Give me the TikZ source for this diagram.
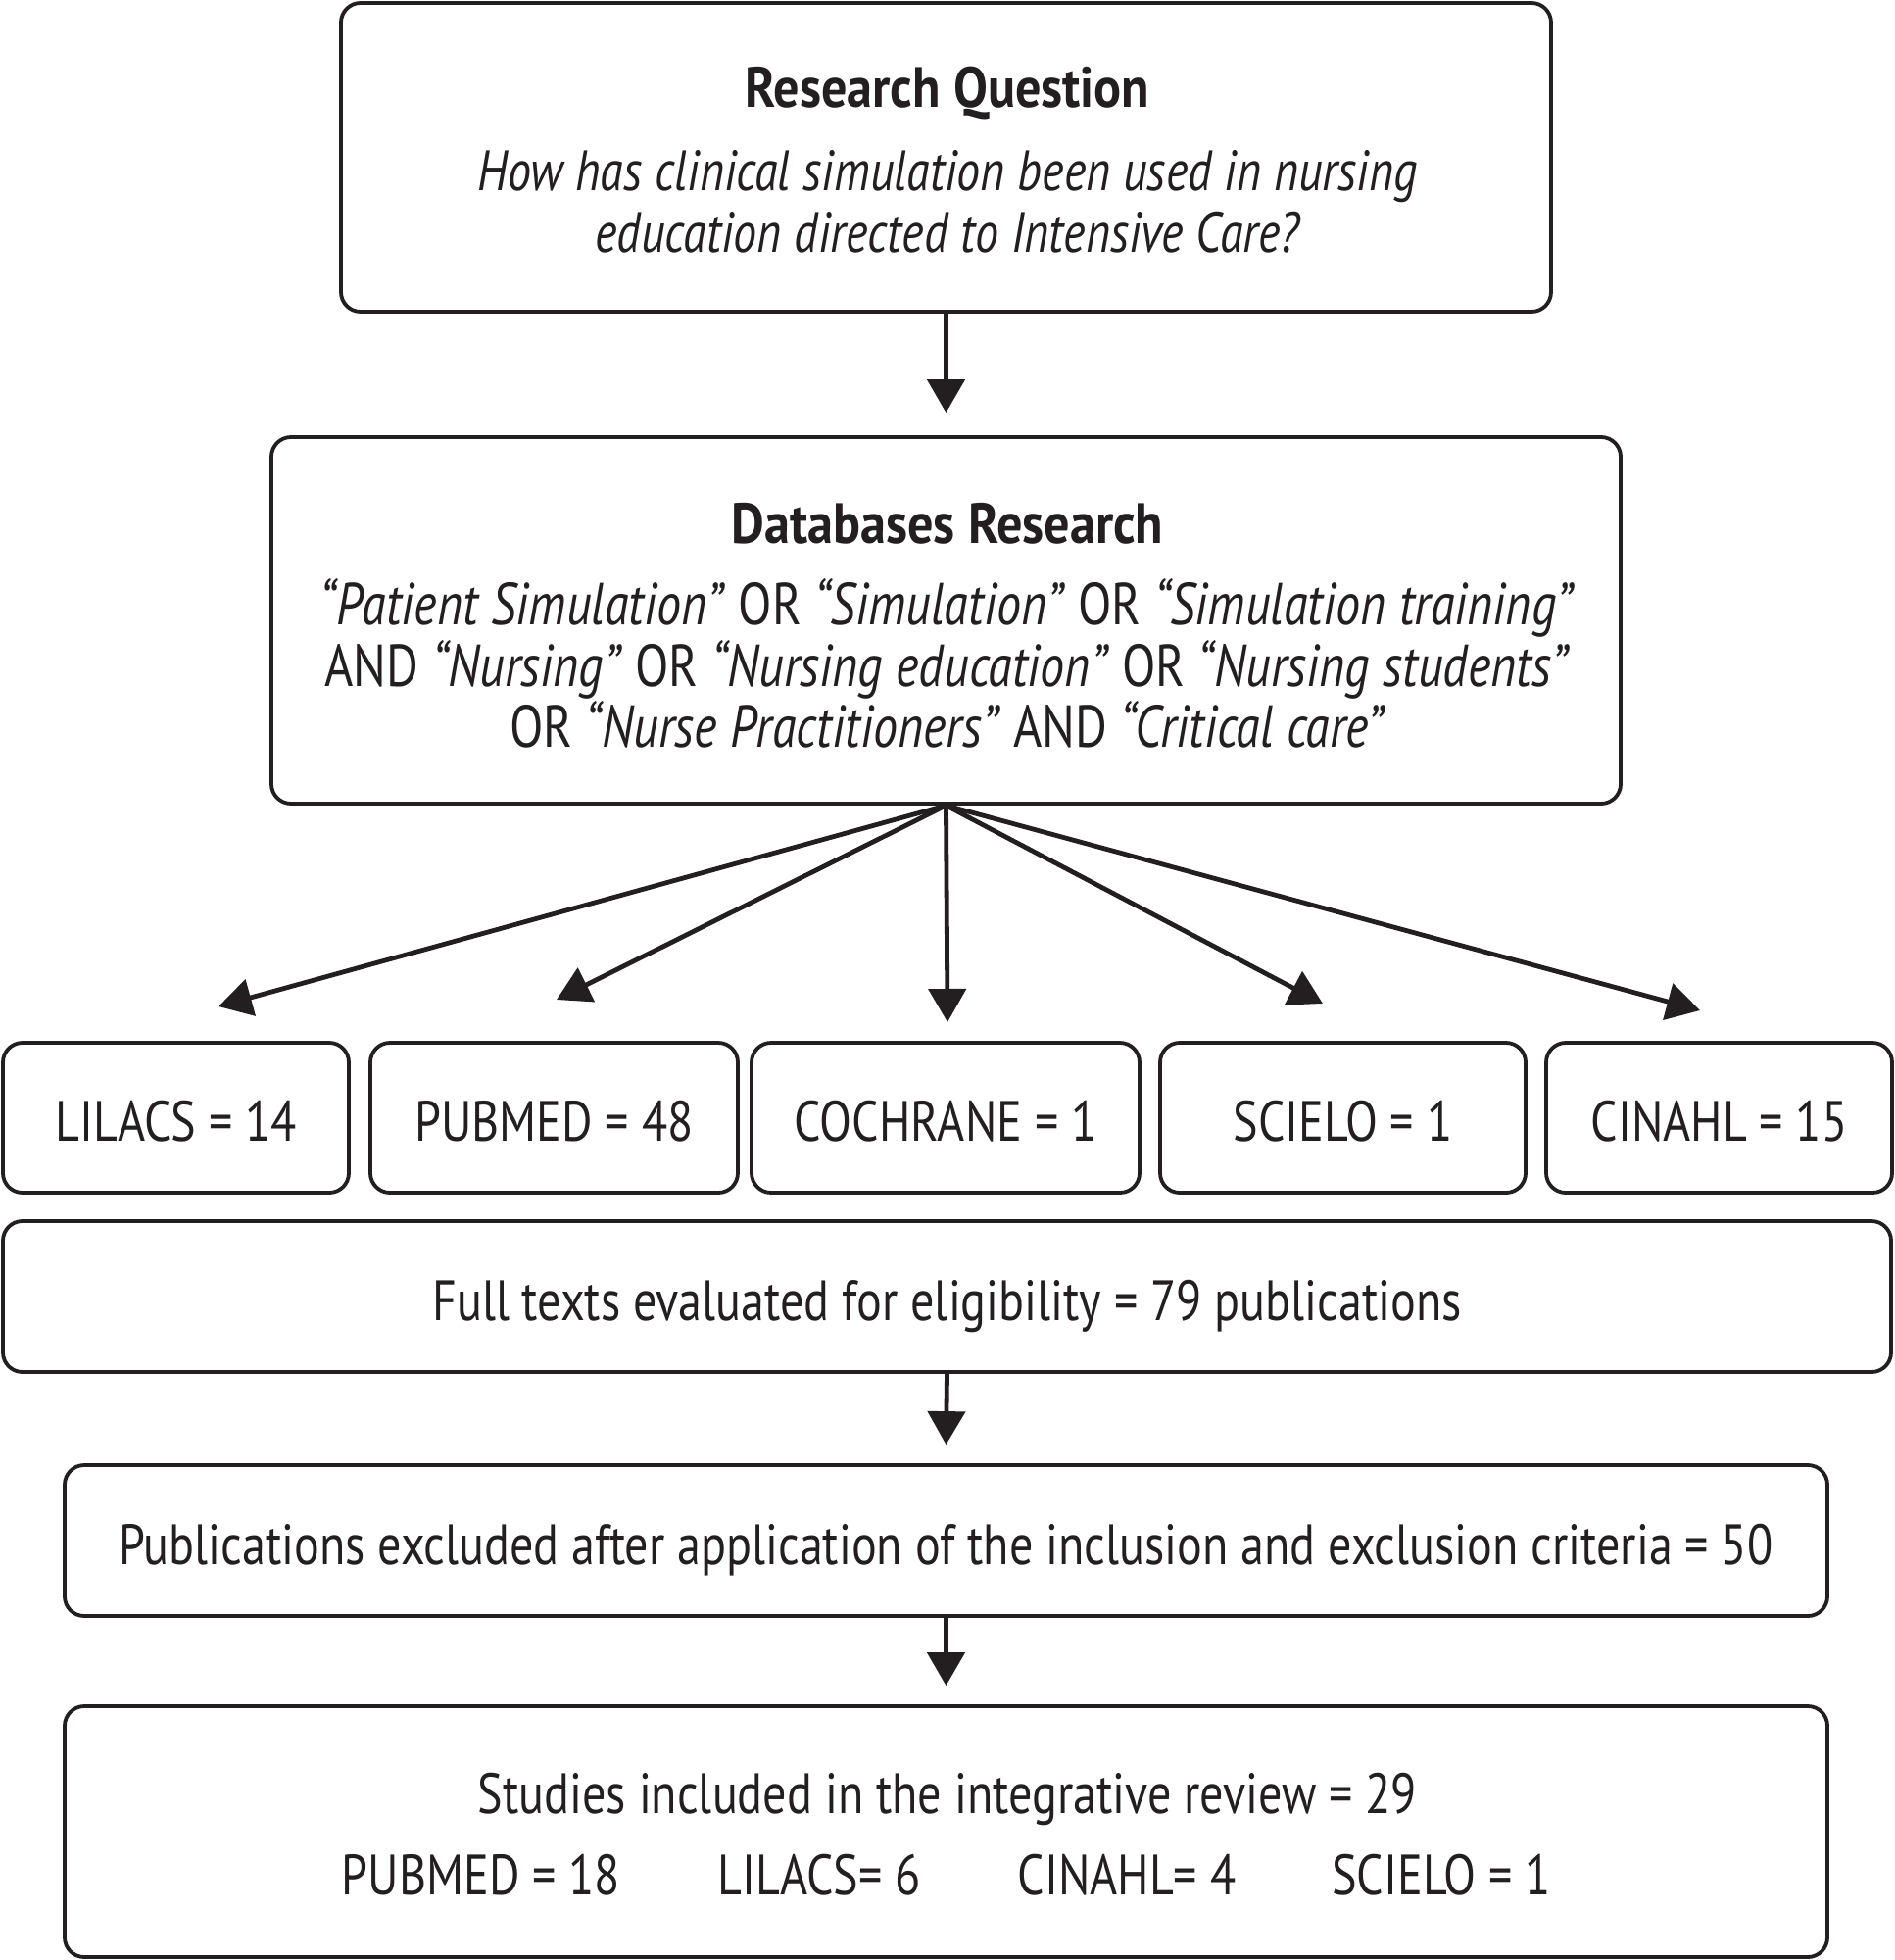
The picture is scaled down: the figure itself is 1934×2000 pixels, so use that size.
\documentclass[tikz,border=0pt]{standalone}
\usepackage{fontspec}
\setmainfont[FakeStretch=0.83]{PT Sans}
\newfontfamily\hdfont[FakeStretch=0.9]{PT Sans}
\usetikzlibrary{arrows.meta}
\definecolor{ink}{RGB}{35,31,32}
\begin{document}
\begin{tikzpicture}[x=1pt,y=-1pt,
  box/.style={draw=ink, line width=3.8pt, rounded corners=20pt, inner sep=0pt, align=center},
  txt/.style={text=ink, font=\fontsize{58}{63}\selectfont, inner sep=0pt, align=center},
  intxt/.style={txt, text height=48pt, text depth=0pt},
  hd/.style={text=ink, font=\fontsize{58}{63}\selectfont\hdfont\bfseries, inner sep=0pt},
  arr/.style={draw=ink, line width=4.8pt, -{Triangle[length=34pt,width=38pt]}}]
\useasboundingbox (0,0) rectangle (1934,2000);
% boxes
\node[box, minimum width=1235pt, minimum height=315pt] (q) at (965.5,160.5) {};
\node[box, minimum width=1377pt, minimum height=374pt] (db) at (965.5,633) {};
\node[box, intxt, minimum width=353pt, minimum height=153pt] (lil) at (179.5,1140.5) {LILACS = 14};
\node[box, intxt, minimum width=375pt, minimum height=153pt] (pub) at (565.5,1140.5) {PUBMED = 48};
\node[box, intxt, minimum width=396pt, minimum height=153pt] (coc) at (965,1140.5) {COCHRANE = 1};
\node[box, intxt, minimum width=373pt, minimum height=153pt] (sci) at (1370.5,1140.5) {SCIELO = 1};
\node[box, intxt, minimum width=353pt, minimum height=153pt] (cin) at (1754.5,1140.5) {CINAHL = 15};
\node[box, intxt, minimum width=1927pt, minimum height=154pt] (full) at (966.5,1323) {Full texts evaluated for eligibility = 79 publications};
\node[box, intxt, minimum width=1799pt, minimum height=154pt] (exc) at (965.5,1572) {Publications excluded after application of the inclusion and exclusion criteria = 50};
\node[box, minimum width=1799pt, minimum height=256pt] (stu) at (965.5,1869) {};
% texts
\node[hd] (qh) at (967,95) {Research Question};
\node[txt, font=\fontsize{58}{63}\selectfont\itshape] (qt) at (967,206) {How has clinical simulation been used in nursing\\education directed to Intensive Care?};
\node[hd] (dh) at (967,534) {Databases Research};
\node[txt, font=\fontsize{60.5}{62.5}\selectfont] (dt) at (967,677) {\textit{“Patient Simulation”} OR \textit{“Simulation”} OR \textit{“Simulation training”}\\
AND \textit{“Nursing”} OR \textit{“Nursing education”} OR \textit{“Nursing students”}\\
OR \textit{“Nurse Practitioners”} AND \textit{“Critical care”}};
\node[txt] (st) at (967,1836) {Studies included in the integrative review = 29};
\node[txt] (s1) at (491,1913) {PUBMED = 18};
\node[txt] (s2) at (836,1913) {LILACS= 6};
\node[txt] (s3) at (1150,1913) {CINAHL= 4};
\node[txt] (s4) at (1471,1913) {SCIELO = 1};
% arrows
\coordinate (t1) at (223,1027);
\coordinate (t2) at (568,1020);
\coordinate (t3) at (967,1043);
\coordinate (t4) at (1350,1024);
\coordinate (t5) at (1735,1031);
\draw[arr] (q.south) -- ([yshift=23pt]db.north);
\foreach \t in {t1,t2,t3,t4,t5} \draw[arr] (db.south) -- (\t);
\draw[arr] (full.south) -- ([yshift=19pt]exc.north);
\draw[arr] (exc.south) -- ([yshift=19pt]stu.north);
\end{tikzpicture}
\end{document}
